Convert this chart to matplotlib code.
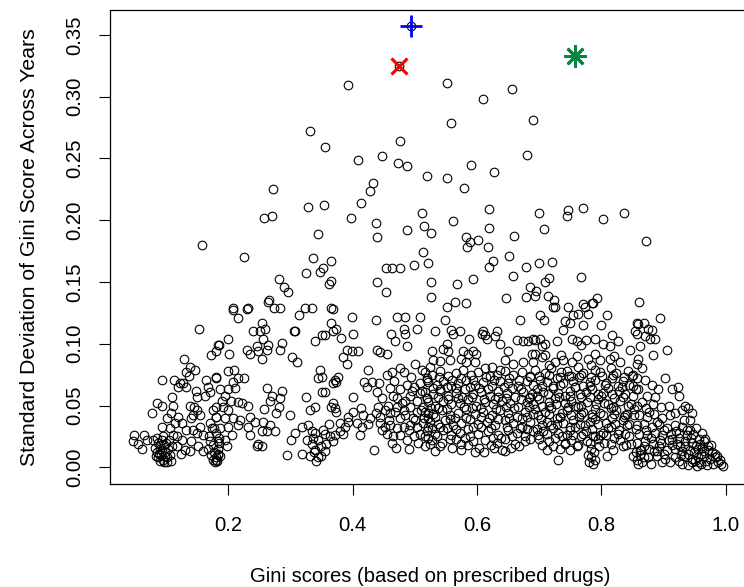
import numpy as np
import matplotlib
matplotlib.use("Agg")
import matplotlib.pyplot as plt

# points, grouped by region (gini, sd)
upper_pts = [
    (0.392, 0.309), (0.331, 0.272), (0.356, 0.259), (0.476, 0.264), (0.408, 0.249), (0.447, 0.252),
    (0.473, 0.246), (0.487, 0.244), (0.519, 0.236), (0.272, 0.225), (0.433, 0.230), (0.428, 0.224),
    (0.328, 0.211), (0.354, 0.212), (0.413, 0.214), (0.258, 0.202), (0.270, 0.203), (0.398, 0.202),
    (0.437, 0.198), (0.512, 0.206), (0.515, 0.195), (0.526, 0.190), (0.344, 0.189), (0.488, 0.192),
    (0.440, 0.186), (0.158, 0.180), (0.225, 0.170), (0.514, 0.174), (0.337, 0.169), (0.366, 0.167),
    (0.352, 0.161), (0.348, 0.158), (0.454, 0.161), (0.463, 0.161), (0.477, 0.161), (0.499, 0.164),
    (0.522, 0.165), (0.325, 0.157), (0.282, 0.152), (0.289, 0.146), (0.297, 0.142), (0.365, 0.151),
    (0.362, 0.148), (0.439, 0.150), (0.453, 0.142), (0.526, 0.150), (0.526, 0.138), (0.265, 0.135),
    (0.207, 0.129), (0.232, 0.129), (0.273, 0.129), (0.283, 0.129), (0.324, 0.129), (0.335, 0.129),
    (0.365, 0.129), (0.369, 0.128),
    (0.552, 0.311), (0.656, 0.306), (0.609, 0.298), (0.559, 0.279), (0.690, 0.281), (0.681, 0.253),
    (0.591, 0.245), (0.628, 0.239), (0.551, 0.234), (0.579, 0.226), (0.620, 0.209), (0.561, 0.199),
    (0.700, 0.206), (0.746, 0.208), (0.745, 0.203), (0.771, 0.210), (0.803, 0.201), (0.836, 0.206),
    (0.620, 0.194), (0.708, 0.193), (0.660, 0.187), (0.872, 0.183), (0.583, 0.186), (0.588, 0.182),
    (0.584, 0.178), (0.601, 0.184), (0.618, 0.178), (0.651, 0.171), (0.626, 0.167), (0.619, 0.162),
    (0.678, 0.162), (0.699, 0.165), (0.721, 0.166), (0.658, 0.155), (0.768, 0.154), (0.568, 0.148),
    (0.593, 0.152), (0.715, 0.153), (0.709, 0.150), (0.685, 0.146), (0.695, 0.143), (0.565, 0.134),
    (0.583, 0.133), (0.646, 0.137), (0.678, 0.138), (0.693, 0.139), (0.714, 0.139), (0.724, 0.135),
    (0.770, 0.132), (0.785, 0.133), (0.793, 0.137), (0.861, 0.134), (0.552, 0.130), (0.725, 0.130),
    (0.747, 0.130),
]

left_pts = [
    (0.153, 0.112), (0.184, 0.099), (0.172, 0.091), (0.129, 0.088), (0.139, 0.081), (0.146, 0.079),
    (0.133, 0.077), (0.137, 0.074), (0.094, 0.071), (0.113, 0.071), (0.122, 0.068), (0.120, 0.065),
    (0.132, 0.065), (0.127, 0.068), (0.165, 0.071), (0.168, 0.065), (0.181, 0.072), (0.171, 0.061),
    (0.163, 0.058), (0.148, 0.062), (0.150, 0.057), (0.085, 0.052), (0.094, 0.050), (0.077, 0.044),
    (0.109, 0.057), (0.112, 0.050), (0.108, 0.044), (0.139, 0.050), (0.145, 0.049), (0.150, 0.046),
    (0.144, 0.042), (0.141, 0.040), (0.155, 0.042), (0.120, 0.041), (0.125, 0.036), (0.114, 0.036),
    (0.093, 0.033), (0.101, 0.040), (0.106, 0.032), (0.176, 0.046), (0.180, 0.041), (0.171, 0.036),
    (0.177, 0.032), (0.133, 0.030), (0.144, 0.030), (0.155, 0.033), (0.150, 0.028), (0.159, 0.026),
    (0.049, 0.026), (0.064, 0.026), (0.055, 0.019), (0.047, 0.021), (0.061, 0.015), (0.069, 0.022),
    (0.079, 0.022), (0.117, 0.025), (0.125, 0.022), (0.117, 0.017), (0.131, 0.014), (0.139, 0.013),
    (0.124, 0.011), (0.152, 0.017), (0.160, 0.013), (0.141, 0.021),
    (0.085, 0.012), (0.088, 0.008), (0.090, 0.015), (0.092, 0.010), (0.095, 0.006), (0.087, 0.020),
    (0.093, 0.022), (0.097, 0.018), (0.099, 0.012), (0.101, 0.008), (0.090, 0.005), (0.094, 0.013),
    (0.096, 0.025), (0.100, 0.020), (0.103, 0.015), (0.106, 0.010), (0.108, 0.005), (0.083, 0.016),
    (0.086, 0.024), (0.089, 0.011), (0.098, 0.009), (0.102, 0.004), (0.105, 0.022), (0.110, 0.017),
    (0.112, 0.026), (0.084, 0.009), (0.091, 0.018), (0.097, 0.004),
    (0.170, 0.025), (0.175, 0.018), (0.178, 0.012), (0.180, 0.008), (0.182, 0.005), (0.176, 0.006),
    (0.172, 0.010), (0.184, 0.015), (0.186, 0.020), (0.181, 0.028), (0.174, 0.032), (0.168, 0.015),
    (0.183, 0.010), (0.179, 0.004), (0.171, 0.021), (0.185, 0.024),
]

midleft_pts = [
    (0.208, 0.127), (0.216, 0.121), (0.231, 0.128), (0.264, 0.134), (0.314, 0.123), (0.254, 0.117),
    (0.240, 0.110), (0.251, 0.110), (0.260, 0.112), (0.256, 0.104), (0.306, 0.110), (0.307, 0.110),
    (0.200, 0.104), (0.185, 0.099), (0.181, 0.094), (0.201, 0.092), (0.230, 0.095), (0.235, 0.092),
    (0.246, 0.098), (0.248, 0.094), (0.254, 0.088), (0.262, 0.095), (0.264, 0.099), (0.286, 0.101),
    (0.283, 0.095), (0.303, 0.089), (0.311, 0.085), (0.340, 0.102), (0.351, 0.107), (0.348, 0.079),
    (0.345, 0.072), (0.351, 0.073), (0.199, 0.078), (0.210, 0.079), (0.216, 0.072), (0.226, 0.072),
    (0.181, 0.073), (0.208, 0.069), (0.187, 0.063), (0.200, 0.063), (0.211, 0.064), (0.195, 0.058),
    (0.262, 0.064), (0.270, 0.058), (0.286, 0.062), (0.283, 0.056), (0.267, 0.054), (0.190, 0.054),
    (0.205, 0.054), (0.216, 0.053), (0.232, 0.050), (0.223, 0.052), (0.325, 0.057), (0.340, 0.049),
    (0.332, 0.046), (0.351, 0.061), (0.258, 0.047), (0.281, 0.049), (0.277, 0.044), (0.299, 0.042),
    (0.181, 0.041), (0.195, 0.040), (0.208, 0.040), (0.219, 0.038), (0.235, 0.041), (0.243, 0.037),
    (0.256, 0.037), (0.267, 0.034), (0.232, 0.033), (0.216, 0.034), (0.200, 0.033), (0.187, 0.032),
    (0.254, 0.029), (0.262, 0.029), (0.275, 0.029), (0.235, 0.026), (0.206, 0.026), (0.195, 0.022),
    (0.184, 0.021), (0.248, 0.019), (0.254, 0.017), (0.246, 0.017), (0.198, 0.017), (0.184, 0.011),
    (0.181, 0.006), (0.187, 0.009), (0.294, 0.010), (0.307, 0.028), (0.301, 0.022), (0.319, 0.033),
    (0.329, 0.034), (0.334, 0.029), (0.340, 0.028), (0.326, 0.022), (0.334, 0.019), (0.345, 0.022),
    (0.350, 0.017), (0.340, 0.014), (0.318, 0.011), (0.331, 0.009), (0.342, 0.005), (0.350, 0.009),
    (0.192, 0.049), (0.200, 0.046), (0.181, 0.049), (0.338, 0.012), (0.345, 0.008), (0.336, 0.024),
]

mid_pts = [
    (0.399, 0.122), (0.438, 0.119), (0.471, 0.122), (0.484, 0.122), (0.508, 0.122), (0.365, 0.117),
    (0.374, 0.112), (0.369, 0.110), (0.356, 0.107), (0.382, 0.105), (0.400, 0.108), (0.461, 0.108),
    (0.468, 0.102), (0.484, 0.108), (0.482, 0.112), (0.487, 0.098), (0.504, 0.112), (0.391, 0.095),
    (0.399, 0.094), (0.408, 0.094), (0.384, 0.089), (0.391, 0.084), (0.440, 0.095), (0.444, 0.093),
    (0.455, 0.092), (0.425, 0.079), (0.356, 0.061), (0.372, 0.071), (0.377, 0.073), (0.369, 0.068),
    (0.374, 0.069), (0.418, 0.069), (0.423, 0.065), (0.431, 0.069), (0.443, 0.068), (0.439, 0.061),
    (0.401, 0.057), (0.455, 0.075), (0.463, 0.077), (0.476, 0.080), (0.482, 0.077), (0.500, 0.084),
    (0.511, 0.079), (0.524, 0.081), (0.460, 0.064), (0.476, 0.063), (0.487, 0.067), (0.498, 0.065),
    (0.508, 0.068), (0.519, 0.071), (0.492, 0.058), (0.508, 0.060), (0.471, 0.056), (0.484, 0.054),
    (0.503, 0.054), (0.519, 0.056), (0.369, 0.052), (0.372, 0.048), (0.366, 0.049), (0.374, 0.045),
    (0.401, 0.045), (0.417, 0.042), (0.428, 0.040), (0.441, 0.049), (0.452, 0.046), (0.444, 0.041),
    (0.460, 0.044), (0.471, 0.049), (0.482, 0.046), (0.492, 0.049), (0.503, 0.045), (0.514, 0.049),
    (0.522, 0.044), (0.444, 0.036), (0.452, 0.033), (0.460, 0.034), (0.471, 0.032), (0.482, 0.033),
    (0.492, 0.034), (0.503, 0.033), (0.514, 0.036), (0.522, 0.033), (0.380, 0.036), (0.388, 0.033),
    (0.393, 0.041), (0.407, 0.036), (0.415, 0.033), (0.356, 0.027), (0.364, 0.025), (0.372, 0.026),
    (0.380, 0.029), (0.358, 0.019), (0.369, 0.021), (0.356, 0.013), (0.352, 0.030), (0.412, 0.026),
    (0.434, 0.014), (0.455, 0.027), (0.465, 0.025), (0.476, 0.026), (0.487, 0.022), (0.498, 0.025),
    (0.508, 0.027), (0.516, 0.017), (0.524, 0.019), (0.448, 0.056), (0.466, 0.070), (0.494, 0.073),
    (0.477, 0.040), (0.497, 0.040), (0.512, 0.062), (0.463, 0.020), (0.491, 0.015), (0.470, 0.016),
    (0.448, 0.030), (0.458, 0.038), (0.468, 0.045), (0.479, 0.052), (0.490, 0.030), (0.500, 0.038),
    (0.510, 0.046), (0.517, 0.025), (0.505, 0.020), (0.485, 0.042), (0.465, 0.058), (0.495, 0.062),
    (0.515, 0.040), (0.457, 0.050), (0.437, 0.044), (0.425, 0.035), (0.413, 0.048), (0.392, 0.037),
    (0.384, 0.027), (0.362, 0.035),
]

# dense band around 0.52 - 0.69
band_a_pts = [
    (0.549, 0.119), (0.532, 0.110), (0.559, 0.111), (0.573, 0.110), (0.562, 0.108), (0.608, 0.108),
    (0.613, 0.107), (0.610, 0.110), (0.616, 0.104), (0.632, 0.110), (0.629, 0.106), (0.637, 0.100),
    (0.587, 0.104), (0.669, 0.119), (0.665, 0.103), (0.674, 0.102), (0.682, 0.102), (0.690, 0.104),
    (0.527, 0.094), (0.546, 0.096), (0.551, 0.100), (0.554, 0.094), (0.530, 0.087), (0.541, 0.086),
    (0.556, 0.087), (0.575, 0.088), (0.578, 0.094), (0.586, 0.092), (0.594, 0.094), (0.599, 0.092),
    (0.583, 0.085), (0.597, 0.085), (0.650, 0.094), (0.645, 0.087), (0.658, 0.084), (0.674, 0.085),
    (0.688, 0.092), (0.690, 0.085), (0.613, 0.080), (0.624, 0.081), (0.632, 0.075), (0.637, 0.079),
    (0.516, 0.077), (0.527, 0.075), (0.541, 0.078), (0.554, 0.074), (0.567, 0.076), (0.578, 0.079),
    (0.591, 0.075), (0.602, 0.077), (0.621, 0.074), (0.645, 0.078), (0.658, 0.075), (0.672, 0.077),
    (0.685, 0.074), (0.522, 0.069), (0.535, 0.067), (0.546, 0.070), (0.559, 0.066), (0.570, 0.068),
    (0.583, 0.071), (0.597, 0.067), (0.610, 0.069), (0.624, 0.066), (0.637, 0.070), (0.650, 0.068),
    (0.666, 0.066), (0.680, 0.070), (0.690, 0.067), (0.516, 0.061), (0.530, 0.059), (0.541, 0.062),
    (0.554, 0.058), (0.567, 0.060), (0.581, 0.063), (0.594, 0.059), (0.607, 0.061), (0.621, 0.058),
    (0.634, 0.062), (0.648, 0.060), (0.661, 0.057), (0.674, 0.061), (0.688, 0.059), (0.522, 0.053),
    (0.532, 0.050), (0.546, 0.054), (0.559, 0.051), (0.573, 0.052), (0.586, 0.055), (0.599, 0.050),
    (0.613, 0.053), (0.626, 0.051), (0.640, 0.054), (0.653, 0.052), (0.666, 0.049), (0.680, 0.053),
    (0.690, 0.051), (0.516, 0.045), (0.530, 0.043), (0.543, 0.046), (0.557, 0.042), (0.570, 0.044),
    (0.583, 0.047), (0.597, 0.043), (0.610, 0.045), (0.624, 0.042), (0.637, 0.046), (0.650, 0.044),
    (0.664, 0.041), (0.677, 0.045), (0.690, 0.043), (0.524, 0.037), (0.537, 0.035), (0.548, 0.038),
    (0.562, 0.034), (0.575, 0.036), (0.589, 0.039), (0.602, 0.035), (0.616, 0.037), (0.629, 0.034),
    (0.645, 0.038), (0.658, 0.036), (0.672, 0.033), (0.685, 0.037), (0.519, 0.029), (0.532, 0.027),
    (0.546, 0.030), (0.559, 0.026), (0.573, 0.028), (0.586, 0.031), (0.602, 0.027), (0.618, 0.029),
    (0.634, 0.026), (0.650, 0.030), (0.664, 0.028), (0.677, 0.025), (0.690, 0.029), (0.527, 0.022),
    (0.543, 0.020), (0.557, 0.023), (0.575, 0.019), (0.594, 0.021), (0.613, 0.022), (0.632, 0.020),
    (0.645, 0.023), (0.661, 0.019), (0.677, 0.021), (0.532, 0.013), (0.575, 0.014), (0.597, 0.012),
    (0.645, 0.013), (0.603, 0.016), (0.612, 0.012), (0.622, 0.018), (0.640, 0.014), (0.655, 0.016),
    (0.529, 0.064), (0.551, 0.065), (0.576, 0.057), (0.604, 0.064), (0.629, 0.055), (0.657, 0.064),
    (0.684, 0.056), (0.538, 0.048), (0.565, 0.040), (0.592, 0.048), (0.619, 0.040), (0.646, 0.049),
    (0.673, 0.040), (0.552, 0.032), (0.580, 0.024), (0.607, 0.033), (0.639, 0.024), (0.669, 0.032),
    (0.520, 0.072), (0.539, 0.073), (0.560, 0.071), (0.574, 0.072), (0.593, 0.071), (0.615, 0.073),
    (0.628, 0.071), (0.652, 0.072), (0.668, 0.071), (0.686, 0.073), (0.540, 0.063), (0.566, 0.064),
    (0.589, 0.065), (0.618, 0.063), (0.643, 0.065), (0.671, 0.063), (0.519, 0.056), (0.537, 0.057),
    (0.553, 0.055), (0.569, 0.056), (0.592, 0.057), (0.611, 0.055), (0.633, 0.057), (0.646, 0.056),
    (0.671, 0.055), (0.686, 0.057), (0.526, 0.048), (0.551, 0.047), (0.579, 0.049), (0.606, 0.048),
    (0.631, 0.047), (0.659, 0.048), (0.683, 0.049), (0.521, 0.040), (0.533, 0.041), (0.556, 0.039),
    (0.583, 0.040), (0.606, 0.041), (0.634, 0.039), (0.652, 0.040), (0.681, 0.041), (0.528, 0.032),
    (0.541, 0.033), (0.566, 0.031), (0.594, 0.033), (0.623, 0.032), (0.649, 0.033), (0.681, 0.031),
    (0.521, 0.024), (0.536, 0.025), (0.566, 0.023), (0.588, 0.025), (0.625, 0.024), (0.656, 0.025),
    (0.686, 0.023), (0.540, 0.017), (0.560, 0.016), (0.585, 0.018), (0.628, 0.016), (0.668, 0.017),
]

# densest band around 0.69 - 0.86
band_b_pts = [
    (0.701, 0.123), (0.707, 0.119), (0.723, 0.130), (0.742, 0.118), (0.750, 0.117), (0.755, 0.123),
    (0.763, 0.124), (0.774, 0.130), (0.779, 0.124), (0.787, 0.133), (0.771, 0.115), (0.809, 0.123),
    (0.800, 0.115), (0.739, 0.111), (0.752, 0.104), (0.760, 0.102), (0.768, 0.099), (0.776, 0.103),
    (0.790, 0.104), (0.803, 0.100), (0.817, 0.107), (0.827, 0.102), (0.814, 0.098), (0.857, 0.117),
    (0.854, 0.110), (0.693, 0.103), (0.701, 0.104), (0.709, 0.100), (0.704, 0.098), (0.728, 0.102),
    (0.693, 0.092), (0.709, 0.091), (0.725, 0.085), (0.739, 0.087), (0.752, 0.085), (0.779, 0.088),
    (0.798, 0.087), (0.814, 0.088), (0.830, 0.085), (0.846, 0.095), (0.857, 0.084),
    (0.693, 0.079), (0.709, 0.076), (0.719, 0.080), (0.735, 0.077), (0.745, 0.078), (0.762, 0.081),
    (0.771, 0.076), (0.789, 0.079), (0.798, 0.077), (0.815, 0.080), (0.824, 0.076), (0.842, 0.078),
    (0.851, 0.075), (0.702, 0.071), (0.713, 0.069), (0.729, 0.072), (0.738, 0.068), (0.755, 0.070),
    (0.764, 0.073), (0.781, 0.069), (0.790, 0.071), (0.808, 0.068), (0.817, 0.072), (0.834, 0.070),
    (0.845, 0.067), (0.696, 0.063), (0.706, 0.061), (0.723, 0.064), (0.731, 0.060), (0.749, 0.062),
    (0.758, 0.065), (0.775, 0.061), (0.785, 0.063), (0.802, 0.060), (0.811, 0.064), (0.828, 0.062),
    (0.838, 0.059), (0.855, 0.063), (0.700, 0.055), (0.716, 0.053), (0.725, 0.056), (0.742, 0.052),
    (0.751, 0.054), (0.768, 0.057), (0.777, 0.053), (0.794, 0.055), (0.804, 0.052), (0.821, 0.056),
    (0.830, 0.054), (0.848, 0.051), (0.694, 0.047), (0.710, 0.045), (0.719, 0.048), (0.736, 0.044),
    (0.745, 0.046), (0.762, 0.049), (0.771, 0.045), (0.789, 0.047), (0.798, 0.044), (0.815, 0.048),
    (0.824, 0.046), (0.841, 0.043), (0.852, 0.047), (0.703, 0.039), (0.712, 0.037), (0.729, 0.040),
    (0.738, 0.036), (0.755, 0.038), (0.764, 0.041), (0.781, 0.037), (0.790, 0.039), (0.808, 0.036),
    (0.817, 0.040), (0.834, 0.038), (0.844, 0.035), (0.696, 0.031), (0.706, 0.029), (0.723, 0.032),
    (0.731, 0.028), (0.749, 0.030), (0.758, 0.033), (0.775, 0.029), (0.785, 0.031), (0.802, 0.028),
    (0.811, 0.032), (0.828, 0.030), (0.838, 0.027), (0.855, 0.031), (0.700, 0.023), (0.716, 0.021),
    (0.725, 0.024), (0.742, 0.020), (0.751, 0.022), (0.768, 0.025), (0.777, 0.021), (0.794, 0.023),
    (0.804, 0.020), (0.821, 0.024), (0.830, 0.022), (0.848, 0.019), (0.716, 0.083), (0.748, 0.074),
    (0.783, 0.083), (0.722, 0.066), (0.741, 0.058), (0.770, 0.066), (0.795, 0.059), (0.827, 0.066),
    (0.715, 0.050), (0.733, 0.041), (0.757, 0.050), (0.785, 0.043), (0.810, 0.051), (0.838, 0.042),
    (0.719, 0.034), (0.745, 0.026), (0.766, 0.035), (0.797, 0.026), (0.822, 0.035), (0.733, 0.015),
    (0.731, 0.006), (0.780, 0.004), (0.783, 0.008), (0.786, 0.003), (0.788, 0.012), (0.784, 0.015),
    (0.779, 0.010), (0.790, 0.006), (0.782, 0.020), (0.787, 0.025), (0.750, 0.014), (0.760, 0.017),
    (0.809, 0.009), (0.819, 0.014), (0.835, 0.017), (0.851, 0.009), (0.859, 0.003), (0.712, 0.014),
    (0.858, 0.006), (0.862, 0.010), (0.866, 0.004), (0.864, 0.014), (0.869, 0.008), (0.856, 0.012),
    (0.699, 0.074), (0.716, 0.075), (0.733, 0.073), (0.751, 0.074), (0.767, 0.075), (0.784, 0.073),
    (0.801, 0.074), (0.819, 0.075), (0.836, 0.073), (0.849, 0.074), (0.704, 0.066), (0.733, 0.067),
    (0.757, 0.065), (0.781, 0.066), (0.806, 0.067), (0.833, 0.065), (0.850, 0.066), (0.697, 0.058),
    (0.714, 0.059), (0.732, 0.057), (0.749, 0.058), (0.766, 0.059), (0.782, 0.057), (0.800, 0.058),
    (0.817, 0.059), (0.834, 0.057), (0.851, 0.058), (0.705, 0.050), (0.727, 0.051), (0.747, 0.049),
    (0.768, 0.050), (0.791, 0.051), (0.818, 0.049), (0.843, 0.050), (0.698, 0.042), (0.716, 0.043),
    (0.734, 0.041), (0.751, 0.042), (0.767, 0.043), (0.785, 0.041), (0.803, 0.042), (0.820, 0.043),
    (0.837, 0.041), (0.852, 0.042), (0.704, 0.034), (0.728, 0.035), (0.750, 0.033), (0.773, 0.034),
    (0.794, 0.035), (0.816, 0.033), (0.841, 0.034), (0.698, 0.026), (0.713, 0.027), (0.736, 0.025),
    (0.755, 0.026), (0.770, 0.027), (0.789, 0.025), (0.808, 0.026), (0.826, 0.027), (0.845, 0.025),
    (0.705, 0.018), (0.722, 0.017), (0.741, 0.019), (0.763, 0.018), (0.796, 0.017), (0.816, 0.019),
    (0.840, 0.018), (0.705, 0.089), (0.735, 0.091), (0.760, 0.090), (0.790, 0.092), (0.820, 0.090),
]

# right-hand tail towards 1.0
right_pts = [
    (0.894, 0.121), (0.859, 0.116), (0.869, 0.117), (0.857, 0.108), (0.875, 0.112), (0.882, 0.111),
    (0.870, 0.106), (0.878, 0.104), (0.886, 0.104), (0.862, 0.098), (0.905, 0.095), (0.883, 0.091),
    (0.859, 0.088), (0.865, 0.080), (0.903, 0.072), (0.913, 0.063), (0.923, 0.065), (0.924, 0.058),
    (0.908, 0.050), (0.934, 0.050), (0.940, 0.048), (0.945, 0.044), (0.942, 0.038), (0.929, 0.046),
    (0.918, 0.044), (0.857, 0.072), (0.870, 0.071), (0.881, 0.067), (0.891, 0.063), (0.886, 0.057),
    (0.859, 0.063), (0.873, 0.058),
    (0.858, 0.050), (0.871, 0.048), (0.883, 0.051), (0.896, 0.049), (0.861, 0.042), (0.873, 0.041),
    (0.885, 0.043), (0.898, 0.040), (0.911, 0.042), (0.858, 0.034), (0.869, 0.035), (0.881, 0.033),
    (0.893, 0.035), (0.906, 0.032), (0.918, 0.034), (0.930, 0.033), (0.860, 0.027), (0.873, 0.026),
    (0.886, 0.028), (0.898, 0.026), (0.912, 0.027), (0.925, 0.028), (0.937, 0.026), (0.948, 0.027),
    (0.858, 0.020), (0.870, 0.021), (0.883, 0.019), (0.896, 0.020), (0.909, 0.022), (0.922, 0.019),
    (0.934, 0.021), (0.946, 0.020), (0.958, 0.019), (0.965, 0.021), (0.862, 0.014), (0.876, 0.015),
    (0.890, 0.013), (0.905, 0.014), (0.918, 0.015), (0.930, 0.013), (0.942, 0.014), (0.955, 0.015),
    (0.965, 0.013), (0.972, 0.014), (0.875, 0.008), (0.890, 0.009), (0.903, 0.007), (0.918, 0.008),
    (0.932, 0.009), (0.945, 0.007), (0.955, 0.008), (0.965, 0.009), (0.975, 0.007), (0.982, 0.008),
    (0.990, 0.006), (0.880, 0.003), (0.930, 0.003), (0.945, 0.004), (0.960, 0.003), (0.970, 0.002),
    (0.980, 0.003), (0.993, 0.003), (0.967, 0.023), (0.971, 0.017), (0.983, 0.011), (0.996, 0.001),
    (0.938, 0.030), (0.944, 0.024), (0.952, 0.017), (0.960, 0.011), (0.950, 0.005), (0.939, 0.011),
    (0.926, 0.017), (0.913, 0.023), (0.900, 0.030), (0.889, 0.037), (0.877, 0.045), (0.866, 0.053),
    (0.868, 0.017), (0.880, 0.024), (0.892, 0.017), (0.901, 0.011), (0.913, 0.018), (0.924, 0.024),
    (0.928, 0.010), (0.935, 0.017), (0.943, 0.030), (0.949, 0.012), (0.957, 0.023), (0.962, 0.016),
    (0.968, 0.005), (0.977, 0.012), (0.986, 0.009), (0.987, 0.004), (0.953, 0.001), (0.940, 0.002),
    (0.925, 0.005), (0.911, 0.004), (0.897, 0.004), (0.884, 0.013), (0.872, 0.030), (0.895, 0.022),
    (0.920, 0.029), (0.932, 0.038), (0.952, 0.032), (0.957, 0.004), (0.976, 0.018), (0.962, 0.028),
]

# the three highlighted prescribers
blue_pt = (0.494, 0.357)
red_pt = (0.475, 0.325)
green_pt = (0.758, 0.333)

x_ticks = [0.2, 0.4, 0.6, 0.8, 1.0]
y_ticks = [0.00, 0.05, 0.10, 0.15, 0.20, 0.25, 0.30, 0.35]

plt.rcParams['font.family'] = ['Liberation Sans', 'DejaVu Sans']

all_pts = upper_pts + left_pts + midleft_pts + mid_pts + band_a_pts + band_b_pts + right_pts
all_pts = all_pts + [blue_pt, red_pt]
gx = np.array([p[0] for p in all_pts])
gy = np.array([p[1] for p in all_pts])

fig = plt.figure(figsize=(7.44, 5.87), dpi=100)
ax = fig.add_axes([0.1478, 0.1755, 0.8612, 0.8083])

ax.plot(gx, gy, linestyle='none', marker='o', markersize=6.2, markerfacecolor='none',
        markeredgecolor='black', markeredgewidth=0.8)
ax.plot(blue_pt[0], blue_pt[1], marker='+', markersize=16, color='#0000FF', markeredgewidth=2.0)
ax.plot(red_pt[0], red_pt[1], marker='x', markersize=11.5, color='#FF0000', markeredgewidth=2.3)
ax.plot(green_pt[0], green_pt[1], marker=(8, 2, 0), markersize=16, color='#00893F', markeredgewidth=2.0)

ax.set_xlim(0.010, 1.040)
ax.set_ylim(-0.0135, 0.3705)
ax.set_xticks(x_ticks)
ax.set_xticklabels(['0.2', '0.4', '0.6', '0.8', '1.0'])
ax.set_yticks(y_ticks)
ax.set_yticklabels(['%.2f' % v for v in y_ticks])

ax.tick_params(axis='both', direction='out', length=7.8, width=0.8, labelsize=14.6, color='black')
ax.tick_params(axis='x', pad=15)
ax.tick_params(axis='y', pad=11)
for lab in ax.get_yticklabels():
    lab.set_rotation(90)
    lab.set_va('center')

for s in ax.spines.values():
    s.set_linewidth(0.9)

ax.set_xlabel('Gini scores (based on prescribed drugs)', fontsize=14.6, va='center')
ax.set_ylabel('Standard Deviation of Gini Score Across Years', fontsize=15.3, va='center')
ax.xaxis.set_label_coords(0.5, -0.196)
ax.yaxis.set_label_coords(-0.1255, 0.5)

fig.savefig('out.png', dpi=100)
